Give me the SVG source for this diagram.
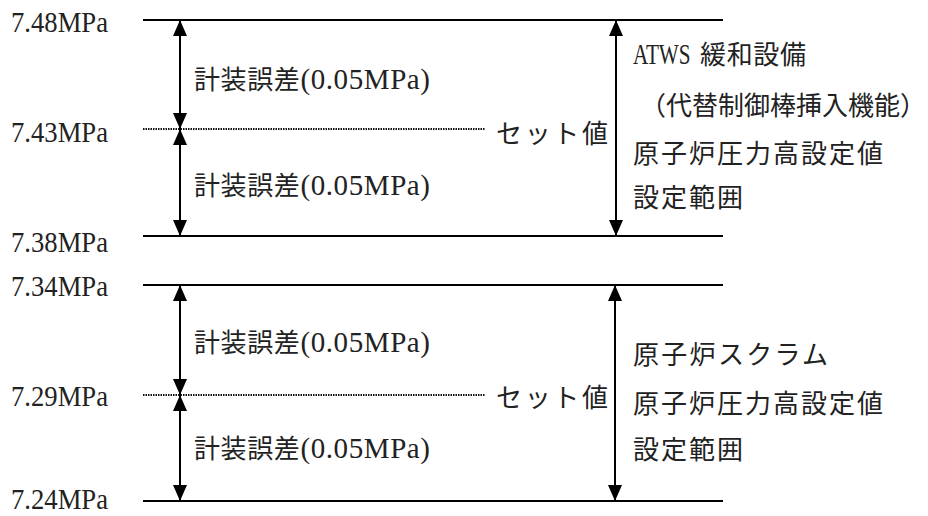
<svg xmlns="http://www.w3.org/2000/svg" width="928" height="516" viewBox="0 0 928 516">
<style>
  text { font-family: "Liberation Serif", "Noto Sans CJK JP", serif; font-size: 26px; fill: #222; }
  .val { font-size: 29px; }
  .lat { font-size: 29px; }
  .solid { stroke: #000; stroke-width: 2; fill: none; }
  .dot { stroke: #111; stroke-width: 2; stroke-dasharray: 1.5 1; fill: none; }
  .arr { stroke: #000; stroke-width: 2; fill: none; marker-start: url(#ah); marker-end: url(#ah); }
</style>
<defs>
  <marker id="ah" viewBox="0 0 16 14" refX="16" refY="7" markerWidth="16" markerHeight="14" markerUnits="userSpaceOnUse" orient="auto-start-reverse">
    <path d="M0,0 L16,7 L0,14 z" fill="#000"/>
  </marker>
</defs>
<rect width="928" height="516" fill="#fff"/>

<g id="levels">
  <line class="solid" x1="143" y1="20" x2="723" y2="20"/>
  <line class="dot" x1="143" y1="129" x2="485" y2="129"/>
  <line class="solid" x1="143" y1="236" x2="723" y2="236"/>
  <line class="solid" x1="143" y1="285" x2="723" y2="285"/>
  <line class="dot" x1="143" y1="395" x2="485" y2="395"/>
  <line class="solid" x1="143" y1="501" x2="723" y2="501"/>
</g>

<g id="connectors">
  <line class="arr" x1="180" y1="20" x2="180" y2="129"/>
  <line class="arr" x1="180" y1="129" x2="180" y2="236"/>
  <line class="arr" x1="616" y1="20" x2="616" y2="236"/>
  <line class="arr" x1="180" y1="285" x2="180" y2="395"/>
  <line class="arr" x1="180" y1="395" x2="180" y2="501"/>
  <line class="arr" x1="615" y1="285" x2="615" y2="501"/>
</g>

<g id="labels-values">
  <text class="val" x="11" y="32" textLength="97" lengthAdjust="spacingAndGlyphs">7.48MPa</text>
  <text class="val" x="11" y="142" textLength="97" lengthAdjust="spacingAndGlyphs">7.43MPa</text>
  <text class="val" x="11" y="252" textLength="97" lengthAdjust="spacingAndGlyphs">7.38MPa</text>
  <text class="val" x="11" y="296" textLength="97" lengthAdjust="spacingAndGlyphs">7.34MPa</text>
  <text class="val" x="11" y="406" textLength="97" lengthAdjust="spacingAndGlyphs">7.29MPa</text>
  <text class="val" x="11" y="509" textLength="97" lengthAdjust="spacingAndGlyphs">7.24MPa</text>
</g>

<g id="error-upper-1"><text x="194" y="89" textLength="236" lengthAdjust="spacing">計装誤差<tspan class="lat">(0.05MPa)</tspan></text></g>
<g id="error-upper-2"><text x="194" y="195" textLength="236" lengthAdjust="spacing">計装誤差<tspan class="lat">(0.05MPa)</tspan></text></g>
<g id="error-lower-1"><text x="194" y="352" textLength="236" lengthAdjust="spacing">計装誤差<tspan class="lat">(0.05MPa)</tspan></text></g>
<g id="error-lower-2"><text x="194" y="458" textLength="236" lengthAdjust="spacing">計装誤差<tspan class="lat">(0.05MPa)</tspan></text></g>

<g id="set-upper"><text x="496" y="143" textLength="112" lengthAdjust="spacing">セット値</text></g>
<g id="set-lower"><text x="496" y="407" textLength="112" lengthAdjust="spacing">セット値</text></g>

<g id="range-upper">
  <text class="lat" transform="translate(633,64) scale(0.73,1)" x="0" y="0">ATWS</text>
  <text x="700" y="64" textLength="106" lengthAdjust="spacing">緩和設備</text>
  <text x="640" y="115" textLength="286" lengthAdjust="spacing">（代替制御棒挿入機能）</text>
  <text x="633" y="163" textLength="250" lengthAdjust="spacing">原子炉圧力高設定値</text>
  <text x="633" y="207" textLength="110" lengthAdjust="spacing">設定範囲</text>
</g>

<g id="range-lower">
  <text x="633" y="364" textLength="195" lengthAdjust="spacing">原子炉スクラム</text>
  <text x="633" y="413" textLength="250" lengthAdjust="spacing">原子炉圧力高設定値</text>
  <text x="633" y="459" textLength="110" lengthAdjust="spacing">設定範囲</text>
</g>
</svg>
